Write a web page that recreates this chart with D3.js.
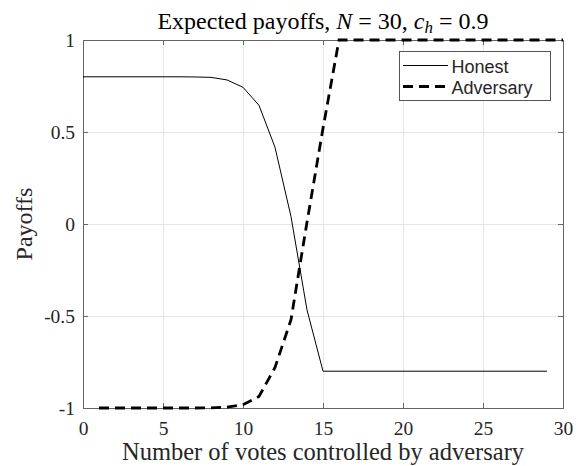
<!DOCTYPE html>
<html>
<head>
<meta charset="utf-8">
<script src="https://cdn.jsdelivr.net/npm/d3@7"></script>
<style>
  body { margin: 0; background: #fff; }
</style>
</head>
<body>
<div id="chart"></div>
<script>
// values
var honestVotes = [0,1,2,3,4,5,6,7,8,9,10,11,12,13,14,15,16,17,18,19,20,21,22,23,24,25,26,27,28,29];
var honestPayoff = [0.8,0.8,0.8,0.8,0.8,0.8,0.8,0.799,0.797,0.783,0.743,0.645,0.417,0.04,-0.467,-0.8,
  -0.8,-0.8,-0.8,-0.8,-0.8,-0.8,-0.8,-0.8,-0.8,-0.8,-0.8,-0.8,-0.8,-0.8];
var advVotes = [1,2,3,4,5,6,7,8,9,10,11,12,13,14,15,16,17,18,19,20,21,22,23,24,25,26,27,28,29,30];
var advPayoff = [-1,-1,-1,-1,-1,-1,-1,-0.999,-0.995,-0.982,-0.937,-0.78,-0.52,0.01,0.52,1,
  1,1,1,1,1,1,1,1,1,1,1,1,1,1];
var xTicks = [0,5,10,15,20,25,30];
var yTicks = [-1,-0.5,0,0.5,1];

var serif = "'Liberation Serif', 'Times New Roman', serif";
var sans = "'Liberation Sans', Arial, sans-serif";

var margin = {top: 40, right: 18, bottom: 58, left: 83},
    width = 581 - margin.left - margin.right,
    height = 466 - margin.top - margin.bottom;

var svg = d3.select("#chart").append("svg")
  .attr("width", 581)
  .attr("height", 466);
var g = svg.append("g")
  .attr("transform", "translate(" + margin.left + "," + margin.top + ")");

var x = d3.scaleLinear().domain([0, 30]).range([0, width]);
var y = d3.scaleLinear().domain([-1, 1]).range([height, 0]);

// grid
g.append("g")
  .attr("class", "grid")
  .attr("transform", "translate(0," + height + ")")
  .call(d3.axisBottom(x).tickValues(xTicks).tickSize(-height).tickFormat(""))
  .call(function (s) { s.select(".domain").remove(); });
g.append("g")
  .attr("class", "grid")
  .call(d3.axisLeft(y).tickValues(yTicks).tickSize(-width).tickFormat(""))
  .call(function (s) { s.select(".domain").remove(); });
g.selectAll(".grid line").attr("stroke", "#e6e6e6").attr("stroke-width", 1);

// axes (box with inward ticks)
var xAxis = g.append("g")
  .attr("transform", "translate(0," + height + ")")
  .call(d3.axisBottom(x).tickValues(xTicks).tickSize(-5).tickPadding(13).tickFormat(function (d) { return String(d); }));
var yAxis = g.append("g")
  .call(d3.axisLeft(y).tickValues(yTicks).tickSize(-5).tickPadding(8).tickFormat(function (d) { return String(d); }));
var xTop = g.append("g")
  .call(d3.axisTop(x).tickValues(xTicks).tickSize(-5).tickFormat(""));
var yRight = g.append("g")
  .attr("transform", "translate(" + width + ",0)")
  .call(d3.axisRight(y).tickValues(yTicks).tickSize(-5).tickFormat(""));

[xAxis, yAxis, xTop, yRight].forEach(function (a) {
  a.attr("font-family", null).attr("font-size", null);
  a.select(".domain").attr("stroke", "#666").attr("stroke-width", 1);
  a.selectAll(".tick line").attr("stroke", "#666");
  a.selectAll(".tick text")
    .style("font-family", serif)
    .style("font-size", "19.5px")
    .attr("fill", "#262626");
});

// lines
var honestLine = d3.line()
  .x(function (d, i) { return x(honestVotes[i]); })
  .y(function (d) { return y(d); });
var advLine = d3.line()
  .x(function (d, i) { return x(advVotes[i]); })
  .y(function (d) { return y(d); });

g.append("path")
  .datum(honestPayoff)
  .attr("fill", "none")
  .attr("stroke", "#000")
  .attr("stroke-width", 1)
  .attr("d", honestLine);
g.append("path")
  .datum(advPayoff)
  .attr("fill", "none")
  .attr("stroke", "#000")
  .attr("stroke-width", 2.8)
  .attr("stroke-dasharray", "10,6")
  .attr("d", advLine);

// title
var title = svg.append("text")
  .attr("x", margin.left + width / 2)
  .attr("y", 29)
  .attr("text-anchor", "middle")
  .style("font-family", serif)
  .style("font-size", "24px")
  .attr("fill", "#000");
title.append("tspan").text("Expected payoffs, ");
title.append("tspan").style("font-style", "italic").text("N");
title.append("tspan").text(" = 30, ");
title.append("tspan").style("font-style", "italic").text("c");
title.append("tspan").style("font-style", "italic").style("font-size", "17px").attr("dy", 4).text("h");
title.append("tspan").attr("dy", -4).text(" = 0.9");

// axis labels
svg.append("text")
  .attr("x", margin.left + width / 2)
  .attr("y", 460)
  .attr("text-anchor", "middle")
  .style("font-family", serif)
  .style("font-size", "24.5px")
  .attr("fill", "#262626")
  .text("Number of votes controlled by adversary");
svg.append("text")
  .attr("transform", "translate(32," + (margin.top + height / 2) + ") rotate(-90)")
  .attr("text-anchor", "middle")
  .style("font-family", serif)
  .style("font-size", "24px")
  .attr("fill", "#262626")
  .text("Payoffs");

// legend
var legend = svg.append("g");
legend.append("rect")
  .attr("x", 399.5).attr("y", 51.5)
  .attr("width", 151).attr("height", 49)
  .attr("fill", "#fff")
  .attr("stroke", "#555")
  .attr("stroke-width", 1);
legend.append("line")
  .attr("x1", 403).attr("x2", 448).attr("y1", 65.5).attr("y2", 65.5)
  .attr("stroke", "#000").attr("stroke-width", 1);
legend.append("line")
  .attr("x1", 403).attr("x2", 448).attr("y1", 86.5).attr("y2", 86.5)
  .attr("stroke", "#000").attr("stroke-width", 2.8)
  .attr("stroke-dasharray", "10,6");
legend.append("text")
  .attr("x", 451.5).attr("y", 72.5)
  .style("font-family", sans)
  .style("font-size", "18px")
  .attr("fill", "#262626")
  .text("Honest");
legend.append("text")
  .attr("x", 451.5).attr("y", 93.5)
  .style("font-family", sans)
  .style("font-size", "18px")
  .attr("fill", "#262626")
  .text("Adversary");
</script>
</body>
</html>
